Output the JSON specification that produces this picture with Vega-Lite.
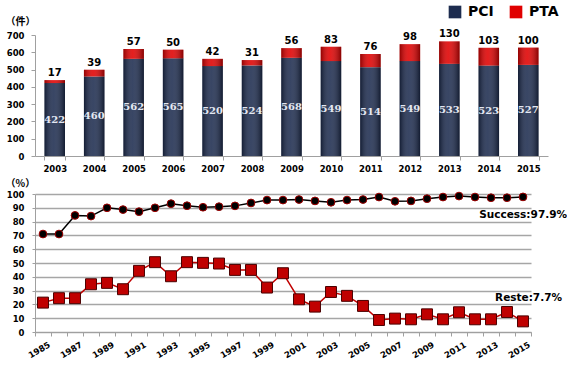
{
  "$schema": "https://vega.github.io/schema/vega-lite/v6.json",
  "padding": {"left": 5, "top": 5, "right": 0, "bottom": 0},
  "spacing": 5,
  "config": {
    "view": {"stroke": null},
    "font": "DejaVu Sans",
    "axis": {
      "labelFont": "DejaVu Sans",
      "labelFontWeight": "bold",
      "labelFontSize": 8.5,
      "labelColor": "#000000",
      "domainColor": "#a0a0a0",
      "tickColor": "#a0a0a0",
      "titleFont": "Noto Sans CJK JP",
      "titleFontWeight": "bold",
      "titleFontSize": 10,
      "titleColor": "#000000"
    }
  },
  "vconcat": [
    {
      "width": 513,
      "height": 121,
      "data": {
        "values": [
          {"year": "2003", "PCI": 422, "PTA": 17},
          {"year": "2004", "PCI": 460, "PTA": 39},
          {"year": "2005", "PCI": 562, "PTA": 57},
          {"year": "2006", "PCI": 565, "PTA": 50},
          {"year": "2007", "PCI": 520, "PTA": 42},
          {"year": "2008", "PCI": 524, "PTA": 31},
          {"year": "2009", "PCI": 568, "PTA": 56},
          {"year": "2010", "PCI": 549, "PTA": 83},
          {"year": "2011", "PCI": 514, "PTA": 76},
          {"year": "2012", "PCI": 549, "PTA": 98},
          {"year": "2013", "PCI": 533, "PTA": 130},
          {"year": "2014", "PCI": 523, "PTA": 103},
          {"year": "2015", "PCI": 527, "PTA": 100}
        ]
      },
      "transform": [{"fold": ["PCI", "PTA"], "as": ["type", "value"]}],
      "encoding": {
        "x": {
          "field": "year",
          "type": "ordinal",
          "scale": {"paddingInner": 0.48, "paddingOuter": 0.24},
          "axis": {
            "title": null,
            "labelAngle": 0,
            "tickBand": "extent",
            "tickSize": 4,
            "labelPadding": 4
          }
        }
      },
      "layer": [
        {
          "mark": {"type": "bar"},
          "encoding": {
            "y": {
              "field": "value",
              "type": "quantitative",
              "stack": "zero",
              "scale": {"domain": [0, 700], "nice": false},
              "axis": {
                "title": "（件）",
                "titleAngle": 0,
                "titleAlign": "left",
                "titleBaseline": "middle",
                "titleX": -30,
                "titleY": -14,
                "values": [0, 100, 200, 300, 400, 500, 600, 700],
                "grid": false,
                "tickSize": 4,
                "labelPadding": 7
              }
            },
            "color": {
              "field": "type",
              "type": "nominal",
              "scale": {"domain": ["PCI", "PTA"], "range": ["#1d2c4f", "#e00000"]},
              "legend": {
                "title": null,
                "orient": "none",
                "direction": "horizontal",
                "legendX": 413,
                "legendY": -30,
                "symbolType": "square",
                "symbolSize": 160,
                "symbolStrokeWidth": 0,
                "labelFont": "DejaVu Sans",
                "labelFontWeight": "bold",
                "labelFontSize": 14,
                "labelOffset": 6,
                "columnPadding": 15
              }
            },
            "order": {"field": "type", "sort": "ascending"}
          }
        },
        {
          "mark": {
            "type": "bar",
            "fill": {
              "gradient": "linear",
              "x1": 0, "y1": 0, "x2": 1, "y2": 0,
              "stops": [
                {"offset": 0, "color": "rgba(0,0,0,0.35)"},
                {"offset": 0.45, "color": "rgba(255,255,255,0.12)"},
                {"offset": 1, "color": "rgba(0,0,0,0.4)"}
              ]
            }
          },
          "encoding": {
            "y": {
              "field": "value",
              "type": "quantitative",
              "stack": "zero",
              "scale": {"domain": [0, 700], "nice": false},
              "axis": null
            },
            "detail": {"field": "type"},
            "order": {"field": "type", "sort": "ascending"}
          }
        },
        {
          "mark": {
            "type": "text",
            "baseline": "bottom",
            "dy": -2,
            "font": "DejaVu Sans",
            "fontWeight": "bold",
            "fontSize": 10,
            "color": "#000000"
          },
          "encoding": {
            "y": {
              "aggregate": "sum",
              "field": "value",
              "type": "quantitative",
              "scale": {"domain": [0, 700], "nice": false},
              "axis": null
            },
            "text": {"aggregate": "max", "field": "PTA", "type": "quantitative"}
          }
        },
        {
          "transform": [{"filter": "datum.type === 'PCI'"}],
          "mark": {
            "type": "text",
            "baseline": "middle",
            "font": "DejaVu Serif",
            "fontWeight": "bold",
            "fontSize": 10,
            "color": "#e4e8f2"
          },
          "encoding": {
            "y": {
              "field": "PCI",
              "type": "quantitative",
              "scale": {"domain": [0, 1400], "nice": false},
              "axis": null
            },
            "text": {"field": "PCI", "type": "quantitative"}
          }
        }
      ],
      "resolve": {"scale": {"y": "independent"}}
    },
    {
      "width": 496,
      "height": 138,
      "data": {
        "values": [
          {"year": "1985", "success": 71, "reste": 21.3},
          {"year": "1986", "success": 71, "reste": 24.5},
          {"year": "1987", "success": 84.5, "reste": 24.5},
          {"year": "1988", "success": 84, "reste": 34.6},
          {"year": "1989", "success": 90, "reste": 35.6},
          {"year": "1990", "success": 88.7, "reste": 31},
          {"year": "1991", "success": 87.2, "reste": 44.3},
          {"year": "1992", "success": 90, "reste": 50.6},
          {"year": "1993", "success": 93, "reste": 40.4},
          {"year": "1994", "success": 91.5, "reste": 50.6},
          {"year": "1995", "success": 90.4, "reste": 50.1},
          {"year": "1996", "success": 90.8, "reste": 49.6},
          {"year": "1997", "success": 91.4, "reste": 45},
          {"year": "1998", "success": 93.5, "reste": 45},
          {"year": "1999", "success": 95.6, "reste": 32.2},
          {"year": "2000", "success": 95.6, "reste": 42.6},
          {"year": "2001", "success": 96, "reste": 23.7},
          {"year": "2002", "success": 95, "reste": 18.4},
          {"year": "2003", "success": 94, "reste": 29},
          {"year": "2004", "success": 95.6, "reste": 26.2},
          {"year": "2005", "success": 96, "reste": 18.9},
          {"year": "2006", "success": 97.8, "reste": 8.7},
          {"year": "2007", "success": 94.7, "reste": 9.7},
          {"year": "2008", "success": 95, "reste": 9.2},
          {"year": "2009", "success": 96.6, "reste": 12.8},
          {"year": "2010", "success": 97.8, "reste": 9.2},
          {"year": "2011", "success": 98.5, "reste": 14.3},
          {"year": "2012", "success": 97.8, "reste": 9.2},
          {"year": "2013", "success": 97.3, "reste": 9.2},
          {"year": "2014", "success": 97.3, "reste": 14.5},
          {"year": "2015", "success": 97.9, "reste": 7.7}
        ]
      },
      "transform": [{"fold": ["success", "reste"], "as": ["series", "value"]}],
      "encoding": {
        "x": {
          "field": "year",
          "type": "ordinal",
          "scale": {"type": "band", "paddingInner": 0, "paddingOuter": 0},
          "axis": {
            "title": null,
            "labelAngle": -30,
            "labelAlign": "right",
            "labelBaseline": "top",
            "labelOffset": 4,
            "labelFontSize": 8.5,
            "labelExpr": "toNumber(datum.value) % 2 == 1 ? datum.label : ''",
            "tickBand": "extent",
            "tickSize": 4,
            "labelPadding": 4
          }
        },
        "y": {
          "field": "value",
          "type": "quantitative",
          "scale": {"domain": [0, 100], "nice": false},
          "axis": {
            "title": "（%）",
            "titleAngle": 0,
            "titleAlign": "left",
            "titleBaseline": "middle",
            "titleX": -30,
            "titleY": -11,
            "values": [0, 10, 20, 30, 40, 50, 60, 70, 80, 90, 100],
            "labelOverlap": false,
            "grid": true,
            "gridColor": "#a6a6a6",
            "gridWidth": 1.3,
            "tickSize": 3,
            "labelPadding": 8
          }
        }
      },
      "layer": [
        {
          "transform": [{"filter": "datum.series === 'success'"}],
          "mark": {
            "type": "line",
            "color": "#000000",
            "strokeWidth": 1.5,
            "point": {"filled": true, "fill": "#000000", "stroke": "#a00000", "strokeWidth": 1, "size": 60}
          }
        },
        {
          "transform": [{"filter": "datum.series === 'reste'"}],
          "mark": {
            "type": "line",
            "color": "#c00000",
            "strokeWidth": 1.5,
            "point": {"filled": true, "shape": "square", "fill": "#c00000", "stroke": "#4a0000", "strokeWidth": 1, "size": 120}
          }
        },
        {
          "data": {
            "values": [
              {"year": "2015", "value": 97.9, "label": "Success:97.9%"}
            ]
          },
          "mark": {
            "type": "text",
            "align": "right",
            "baseline": "middle",
            "dx": 44,
            "dy": 18,
            "font": "DejaVu Sans",
            "fontWeight": "bold",
            "fontSize": 10.5,
            "color": "#000000"
          },
          "encoding": {
            "text": {"field": "label"}
          }
        },
        {
          "data": {
            "values": [
              {"year": "2015", "value": 7.7, "label": "Reste:7.7%"}
            ]
          },
          "mark": {
            "type": "text",
            "align": "right",
            "baseline": "middle",
            "dx": 39,
            "dy": -23,
            "font": "DejaVu Sans",
            "fontWeight": "bold",
            "fontSize": 10.5,
            "color": "#000000"
          },
          "encoding": {
            "text": {"field": "label"}
          }
        }
      ]
    }
  ]
}
